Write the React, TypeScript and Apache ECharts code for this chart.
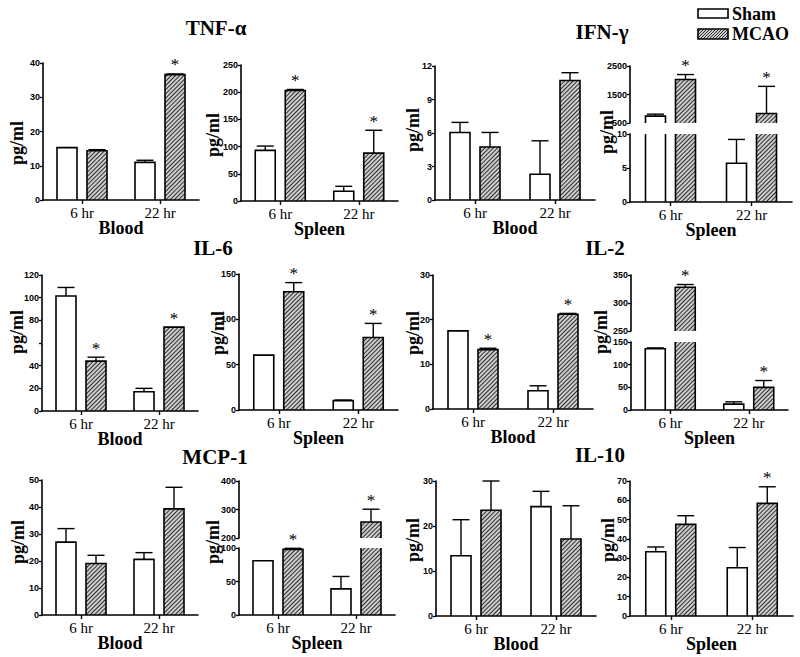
import React, { useEffect, useRef } from 'react';
import * as echarts from 'echarts';

const TIMEPOINTS = ['6 hr', '22 hr'];

// TNF-α
const tnfBloodSham = [15.3, 11.0];
const tnfBloodShamSem = [0, 0.6];
const tnfBloodMcao = [14.4, 36.6];
const tnfBloodMcaoSem = [0.3, 0.2];
const tnfBloodSig = [0, 1];
const tnfSpleenSham = [93, 18];
const tnfSpleenShamSem = [8, 9];
const tnfSpleenMcao = [203, 88];
const tnfSpleenMcaoSem = [2, 42];
const tnfSpleenSig = [1, 1];
// IFN-γ
const ifnBloodSham = [6.05, 2.3];
const ifnBloodShamSem = [0.9, 3.0];
const ifnBloodMcao = [4.75, 10.7];
const ifnBloodMcaoSem = [1.3, 0.7];
const ifnBloodSig = [0, 0];
const ifnSpleenSham = [740, 5.7];
const ifnSpleenShamSem = [70, 3.5];
const ifnSpleenMcao = [2025, 835];
const ifnSpleenMcaoSem = [175, 950];
const ifnSpleenSig = [1, 1];
// IL-6
const il6BloodSham = [101.5, 17];
const il6BloodShamSem = [7.5, 3];
const il6BloodMcao = [44, 74];
const il6BloodMcaoSem = [3.5, 0];
const il6BloodSig = [1, 1];
const il6SpleenSham = [60.5, 10.3];
const il6SpleenShamSem = [0, 0.7];
const il6SpleenMcao = [130.5, 80];
const il6SpleenMcaoSem = [10, 15.5];
const il6SpleenSig = [1, 1];
// IL-2
const il2BloodSham = [17.5, 4.1];
const il2BloodShamSem = [0, 1.1];
const il2BloodMcao = [13.3, 21.2];
const il2BloodMcaoSem = [0.3, 0.2];
const il2BloodSig = [1, 1];
const il2SpleenSham = [135, 13];
const il2SpleenShamSem = [2, 5];
const il2SpleenMcao = [328, 50];
const il2SpleenMcaoSem = [5, 15];
const il2SpleenSig = [1, 1];
// MCP-1
const mcpBloodSham = [27, 20.6];
const mcpBloodShamSem = [5, 2.5];
const mcpBloodMcao = [19.1, 39.3];
const mcpBloodMcaoSem = [3, 8];
const mcpBloodSig = [0, 0];
const mcpSpleenSham = [81, 39];
const mcpSpleenShamSem = [0, 18.5];
const mcpSpleenMcao = [98, 256];
const mcpSpleenMcaoSem = [1.5, 45];
const mcpSpleenSig = [1, 1];
// IL-10
const il10BloodSham = [13.4, 24.3];
const il10BloodShamSem = [8, 3.4];
const il10BloodMcao = [23.5, 17.1];
const il10BloodMcaoSem = [6.5, 7.4];
const il10BloodSig = [0, 0];
const il10SpleenSham = [33.3, 25];
const il10SpleenShamSem = [2.5, 10.5];
const il10SpleenMcao = [47.5, 58.4];
const il10SpleenMcaoSem = [4.5, 8.6];
const il10SpleenSig = [0, 1];

const SERIF = '"Liberation Serif", "Times New Roman", serif';
const SANS = '"Liberation Sans", Arial, sans-serif';
const HATCH_BG = '#cdcdcd';
const HATCH_FG = '#2e2e2e';
const HATCH: any = {
  symbol: 'rect',
  symbolSize: 1,
  dashArrayX: [1, 0],
  dashArrayY: [1, 2],
  rotation: -Math.PI / 4,
  color: HATCH_FG,
  backgroundColor: HATCH_BG,
};

type Range = { min: number; max: number; interval: number; custom?: number[]; hide?: number[] };
type Panel = {
  tissue: string;
  sham: number[]; shamSem: number[]; mcao: number[]; mcaoSem: number[]; sig: number[];
  left: number; width: number; top: number; bottom: number;
  range?: Range;
  upper?: Range; lower?: Range; upperBottom?: number; lowerTop?: number;
  yName: [number, number];
};

const PANELS: Panel[] = [
  { tissue: 'Blood', sham: tnfBloodSham, shamSem: tnfBloodShamSem, mcao: tnfBloodMcao, mcaoSem: tnfBloodMcaoSem, sig: tnfBloodSig,
    left: 43, width: 156, top: 63, bottom: 200, range: { min: 0, max: 40, interval: 10 }, yName: [17, 143] },
  { tissue: 'Spleen', sham: tnfSpleenSham, shamSem: tnfSpleenShamSem, mcao: tnfSpleenMcao, mcaoSem: tnfSpleenMcaoSem, sig: tnfSpleenSig,
    left: 241, width: 157, top: 65, bottom: 201, range: { min: 0, max: 250, interval: 50 }, yName: [213, 135] },
  { tissue: 'Blood', sham: ifnBloodSham, shamSem: ifnBloodShamSem, mcao: ifnBloodMcao, mcaoSem: ifnBloodMcaoSem, sig: ifnBloodSig,
    left: 435, width: 160, top: 66, bottom: 200, range: { min: 0, max: 12, interval: 3 }, yName: [413, 130] },
  { tissue: 'Spleen', sham: ifnSpleenSham, shamSem: ifnSpleenShamSem, mcao: ifnSpleenMcao, mcaoSem: ifnSpleenMcaoSem, sig: ifnSpleenSig,
    left: 630, width: 162, top: 66, bottom: 202,
    upper: { min: 500, max: 2500, interval: 500, custom: [500, 1500, 2500] }, lower: { min: 0, max: 10, interval: 5 },
    upperBottom: 123, lowerTop: 134, yName: [607, 132] },
  { tissue: 'Blood', sham: il6BloodSham, shamSem: il6BloodShamSem, mcao: il6BloodMcao, mcaoSem: il6BloodMcaoSem, sig: il6BloodSig,
    left: 42, width: 156, top: 275, bottom: 411, range: { min: 0, max: 120, interval: 20, hide: [60] }, yName: [17, 332] },
  { tissue: 'Spleen', sham: il6SpleenSham, shamSem: il6SpleenShamSem, mcao: il6SpleenMcao, mcaoSem: il6SpleenMcaoSem, sig: il6SpleenSig,
    left: 239, width: 159, top: 274, bottom: 410, range: { min: 0, max: 150, interval: 50 }, yName: [218, 333] },
  { tissue: 'Blood', sham: il2BloodSham, shamSem: il2BloodShamSem, mcao: il2BloodMcao, mcaoSem: il2BloodMcaoSem, sig: il2BloodSig,
    left: 433, width: 160, top: 275, bottom: 409, range: { min: 0, max: 30, interval: 10 }, yName: [413, 333] },
  { tissue: 'Spleen', sham: il2SpleenSham, shamSem: il2SpleenShamSem, mcao: il2SpleenMcao, mcaoSem: il2SpleenMcaoSem, sig: il2SpleenSig,
    left: 631, width: 157, top: 275, bottom: 410,
    upper: { min: 250, max: 350, interval: 50 }, lower: { min: 0, max: 150, interval: 50 },
    upperBottom: 331, lowerTop: 342, yName: [601, 332] },
  { tissue: 'Blood', sham: mcpBloodSham, shamSem: mcpBloodShamSem, mcao: mcpBloodMcao, mcaoSem: mcpBloodMcaoSem, sig: mcpBloodSig,
    left: 42, width: 156, top: 480, bottom: 615, range: { min: 0, max: 50, interval: 10 }, yName: [18, 542] },
  { tissue: 'Spleen', sham: mcpSpleenSham, shamSem: mcpSpleenShamSem, mcao: mcpSpleenMcao, mcaoSem: mcpSpleenMcaoSem, sig: mcpSpleenSig,
    left: 239, width: 156, top: 481, bottom: 615,
    upper: { min: 200, max: 400, interval: 100 }, lower: { min: 0, max: 100, interval: 50 },
    upperBottom: 538, lowerTop: 548, yName: [213, 542] },
  { tissue: 'Blood', sham: il10BloodSham, shamSem: il10BloodShamSem, mcao: il10BloodMcao, mcaoSem: il10BloodMcaoSem, sig: il10BloodSig,
    left: 436, width: 160, top: 481, bottom: 616, range: { min: 0, max: 30, interval: 10 }, yName: [413, 540] },
  { tissue: 'Spleen', sham: il10SpleenSham, shamSem: il10SpleenShamSem, mcao: il10SpleenMcao, mcaoSem: il10SpleenMcaoSem, sig: il10SpleenSig,
    left: 630, width: 163, top: 481, bottom: 616, range: { min: 0, max: 70, interval: 10 }, yName: [608, 540] },
];

const TITLES: { text: string; x: number; y: number }[] = [
  { text: 'TNF-α', x: 216, y: 28 },
  { text: 'IFN-γ', x: 602, y: 32 },
  { text: 'IL-6', x: 213, y: 248 },
  { text: 'IL-2', x: 605, y: 248 },
  { text: 'MCP-1', x: 215, y: 457 },
  { text: 'IL-10', x: 600, y: 455 },
];

const BAR_W = 20;
const BAR_OFF = 15;

function renderBar(params: any, api: any) {
  const cat = api.value(0);
  const g = api.value(1);
  const v = api.value(2);
  const e = api.value(3);
  const s = api.value(4);
  const cs = params.coordSys;
  const gTop = cs.y;
  const gBot = cs.y + cs.height;
  const p0 = api.coord([cat, 0]);
  const pv = api.coord([cat, v]);
  const cx = p0[0] + (g === 0 ? -BAR_OFF : BAR_OFF);
  const x0 = cx - BAR_W / 2;
  const x1 = cx + BAR_W / 2;
  if (pv[1] >= gBot - 0.5) return null;
  const topOpen = pv[1] < gTop - 0.5;
  const yT = Math.max(pv[1], gTop);
  const yB = Math.min(p0[1], gBot);
  const children: any[] = [];
  children.push({
    type: 'rect',
    shape: { x: x0, y: yT, width: BAR_W, height: yB - yT },
    style: g === 0 ? { fill: '#fff' } : { fill: HATCH_BG, decal: HATCH },
  });
  const ln = { stroke: '#000', lineWidth: 1.6 };
  if (topOpen) {
    children.push({ type: 'line', shape: { x1: x0, y1: yB, x2: x0, y2: yT }, style: ln });
    children.push({ type: 'line', shape: { x1: x1, y1: yB, x2: x1, y2: yT }, style: ln });
  } else {
    children.push({
      type: 'polyline',
      shape: { points: [[x0, yB], [x0, yT], [x1, yT], [x1, yB]] },
      style: { ...ln, fill: null },
    });
    let yTopMark = yT;
    if (e > 0) {
      const ye = api.coord([cat, v + e])[1];
      children.push({ type: 'line', shape: { x1: cx, y1: yT, x2: cx, y2: ye }, style: { stroke: '#000', lineWidth: 1.4 } });
      children.push({ type: 'line', shape: { x1: cx - 8.5, y1: ye, x2: cx + 8.5, y2: ye }, style: { stroke: '#000', lineWidth: 1.4 } });
      yTopMark = ye;
    }
    if (s) {
      children.push({
        type: 'text',
        x: cx,
        y: yTopMark - 9,
        style: {
          text: '*', fill: '#000', font: '17px ' + SERIF,
          align: 'center', verticalAlign: 'middle', textAlign: 'center', textVerticalAlign: 'middle',
        },
      });
    }
  }
  return { type: 'group', children };
}

function hatchLines(x: number, y: number, w: number, h: number, step: number) {
  const out: any[] = [];
  for (let k = -h; k < w; k += step) {
    let ax = x + k, ay = y + h, bx = x + k + h, by = y;
    if (ax < x) { const t = x - ax; ax = x; ay = y + h - t; }
    if (bx > x + w) { const t = bx - (x + w); bx = x + w; by = y + t; }
    if (bx > ax) out.push({ type: 'line', silent: true, shape: { x1: ax, y1: ay, x2: bx, y2: by }, style: { stroke: HATCH_FG, lineWidth: 1 } });
  }
  return out;
}

function buildOption() {
  const grid: any[] = [];
  const xAxis: any[] = [];
  const yAxis: any[] = [];
  const series: any[] = [];
  const graphic: any[] = [];

  const addGrid = (left: number, top: number, width: number, height: number, r: Range, showX: boolean, name: string, rows: any[]) => {
    const gi = grid.length;
    grid.push({ left, top, width, height, containLabel: false, outerBoundsMode: 'none' });
    xAxis.push({
      type: 'category', gridIndex: gi, data: TIMEPOINTS, show: showX, z: 5,
      axisLine: { show: true, lineStyle: { color: '#000', width: 1.6 } },
      axisTick: { show: true, alignWithLabel: true, length: 4, lineStyle: { color: '#000', width: 1.4 } },
      axisLabel: { color: '#000', fontFamily: SERIF, fontSize: 15, margin: 5 },
      splitLine: { show: false },
      name, nameLocation: 'middle', nameGap: 19, nameMoveOverlap: false,
      nameTextStyle: { color: '#000', fontFamily: SERIF, fontWeight: 'bold', fontSize: 18 },
    });
    const hide = r.hide || [];
    const axisLabel: any = {
      color: '#000', fontFamily: SANS, fontWeight: 'bold', fontSize: 9, margin: 3,
      formatter: (val: number) => (hide.indexOf(val) >= 0 ? '' : String(val)),
    };
    const axisTick: any = { show: true, length: 3, lineStyle: { color: '#000', width: 1.3 } };
    if (r.custom) {
      axisLabel.customValues = r.custom;
      axisTick.customValues = r.custom;
    }
    yAxis.push({
      type: 'value', gridIndex: gi, min: r.min, max: r.max, interval: r.interval, z: 5,
      axisLine: { show: true, lineStyle: { color: '#000', width: 1.6 } },
      axisTick, axisLabel,
      splitLine: { show: false },
    });
    series.push({
      type: 'custom', xAxisIndex: gi, yAxisIndex: gi, data: rows,
      encode: { x: 0, y: 2 }, renderItem: renderBar, clip: false, silent: true, z: 2,
    });
  };

  PANELS.forEach((p) => {
    const rows: any[] = [];
    TIMEPOINTS.forEach((_, i) => {
      rows.push([i, 0, p.sham[i], p.shamSem[i], 0]);
      rows.push([i, 1, p.mcao[i], p.mcaoSem[i], p.sig[i]]);
    });
    if (p.range) {
      addGrid(p.left, p.top, p.width, p.bottom - p.top, p.range, true, p.tissue, rows);
    } else {
      addGrid(p.left, p.top, p.width, (p.upperBottom as number) - p.top, p.upper as Range, false, '', rows);
      addGrid(p.left, p.lowerTop as number, p.width, p.bottom - (p.lowerTop as number), p.lower as Range, true, p.tissue, rows);
    }
    graphic.push({
      type: 'text', x: p.yName[0], y: p.yName[1], rotation: Math.PI / 2, silent: true,
      style: { text: 'pg/ml', fill: '#000', font: 'bold 18px ' + SERIF, align: 'center', verticalAlign: 'middle', textAlign: 'center', textVerticalAlign: 'middle' },
    });
  });

  TITLES.forEach((t) => {
    graphic.push({
      type: 'text', x: t.x, y: t.y, silent: true,
      style: { text: t.text, fill: '#000', font: 'bold 21px ' + SERIF, align: 'center', verticalAlign: 'middle', textAlign: 'center', textVerticalAlign: 'middle' },
    });
  });

  // Legend
  graphic.push({ type: 'rect', silent: true, shape: { x: 698, y: 9, width: 30, height: 9 }, style: { fill: '#fff', stroke: '#000', lineWidth: 1.6 } });
  graphic.push({ type: 'rect', silent: true, shape: { x: 698, y: 29, width: 30, height: 10 }, style: { fill: HATCH_BG } });
  hatchLines(698, 29, 30, 10, 3).forEach((l) => graphic.push(l));
  graphic.push({ type: 'rect', silent: true, shape: { x: 698, y: 29, width: 30, height: 10 }, style: { fill: 'none', stroke: '#000', lineWidth: 1.6 } });
  graphic.push({
    type: 'text', x: 732, y: 14, silent: true,
    style: { text: 'Sham', fill: '#000', font: 'bold 18px ' + SERIF, align: 'left', verticalAlign: 'middle', textAlign: 'left', textVerticalAlign: 'middle' },
  });
  graphic.push({
    type: 'text', x: 732, y: 34, silent: true,
    style: { text: 'MCAO', fill: '#000', font: 'bold 18px ' + SERIF, align: 'left', verticalAlign: 'middle', textAlign: 'left', textVerticalAlign: 'middle' },
  });

  return {
    animation: false,
    backgroundColor: '#fff',
    grid, xAxis, yAxis, series, graphic,
  };
}

export default function App() {
  const ref = useRef<HTMLDivElement>(null);
  useEffect(() => {
    if (!ref.current) return;
    const chart = echarts.init(ref.current, null, { renderer: 'svg' });
    chart.setOption(buildOption() as any);
    return () => chart.dispose();
  }, []);
  return (
    <div
      ref={ref}
      style={{ position: 'absolute', left: 0, top: 0, width: 800, height: 657, background: '#fff' }}
    />
  );
}
